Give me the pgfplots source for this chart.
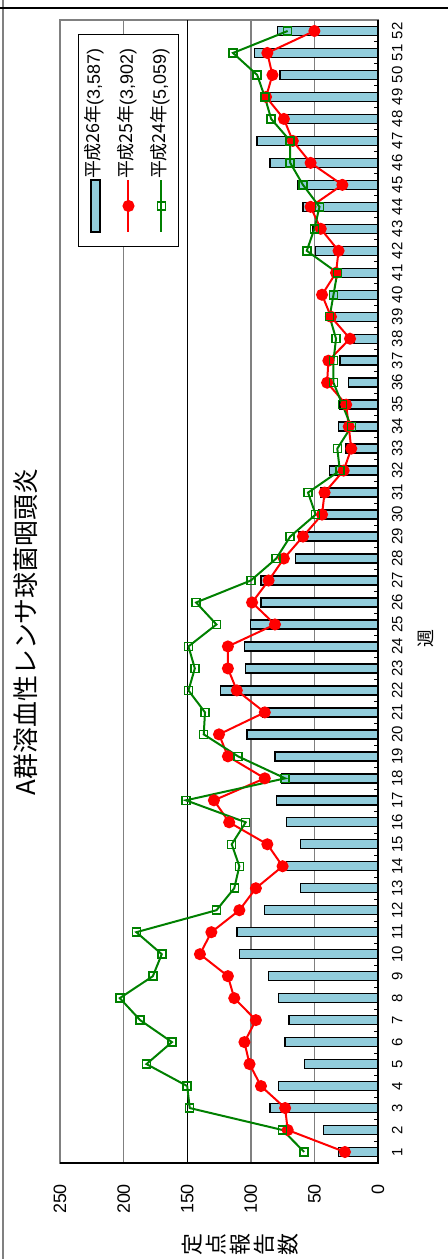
\documentclass[border=0pt]{standalone}
\usepackage{fontspec}
\setmainfont{Liberation Sans}
\newfontfamily\cjk{Noto Sans CJK JP}
\usepackage{pgfplots}
\pgfplotsset{compat=1.18}
\definecolor{barblue}{HTML}{92CDDC}
\definecolor{gridgray}{HTML}{808080}
\definecolor{lgreen}{HTML}{008000}

\begin{document}
\begin{tikzpicture}[rotate=90, transform shape]
\useasboundingbox (-48bp,-35bp) rectangle (581.5bp,189bp);
% chart frame (only the two edges visible in the reference)
\draw[gridgray, line width=0.75bp] (-48bp,187.5bp) -- (581.5bp,187.5bp);
\draw[black, line width=0.75bp] (577.5bp,-35bp) -- (577.5bp,189bp);
\begin{axis}[
  at={(0,0)}, anchor=south west,
  scale only axis, width=571.5bp, height=159bp,
  xmin=0.5, xmax=52.5, ymin=0, ymax=250,
  xtick={1,...,52},
  minor xtick={0.5,1.5,...,52.5},
  ytick={0,50,100,200,250},
  extra y ticks={150},
  extra y tick style={grid style={black, line width=0.5bp}},
  ymajorgrids,
  grid style={gridgray, line width=0.75bp},
  tick pos=left, tick align=inside,
  major tick length=0pt, minor tick length=2bp,
  every tick/.style={black, line width=0.5bp},
  axis line style={gridgray, line width=0.75bp},
  /pgf/number format/assume math mode=true,
  yticklabel style={font=\fontsize{9}{10}\selectfont, xshift=-7bp},
  xticklabel style={font=\fontsize{7.5}{9}\selectfont, yshift=-3.5bp},
  title={A群溶血性レンサ球菌咽頭炎},
  title style={at={(axis description cs:0.4646,1.069)}, anchor=center,
    font=\cjk\fontsize{13}{15}\selectfont},
  xlabel={週},
  xlabel style={at={(axis description cs:0.4585,-0.151)}, anchor=center,
    font=\cjk\fontsize{9}{10}\selectfont},
  ylabel={定\\点\\報\\告\\数},
  ylabel style={at={(axis description cs:-0.0717,0.434)}, anchor=center,
    rotate=-90, align=center, font=\cjk\fontsize{11}{12}\selectfont},
  legend cell align=left,
  legend style={at={(axis description cs:0.9878,0.9434)}, anchor=north east,
    draw=black, line width=0.5bp, font=\fontsize{9}{10}\selectfont,
    row sep=9bp, inner xsep=7bp, inner ysep=4.75bp,
    nodes={inner sep=0pt, text height=6bp, text depth=1.5bp}},
  after end axis/.code={
    \draw[black, line width=1bp] (rel axis cs:0,1) -- (rel axis cs:0,0) -- (rel axis cs:1,0);
  },
]
% 平成26年
\addplot[ybar, bar width=4.5bp, fill=barblue, draw=black, line width=0.7bp,
  legend image code/.code={
    \draw[fill=barblue, draw=black, line width=0.7bp] (0bp,-2.25bp) rectangle (26bp,2.25bp);}]
  coordinates {
  (1,31) (2,43) (3,85) (4,78) (5,58) (6,73) (7,70) (8,78) (9,86) (10,109)
  (11,111) (12,89) (13,61) (14,72) (15,61) (16,72) (17,80) (18,76) (19,81) (20,103)
  (21,91) (22,124) (23,104) (24,105) (25,100) (26,92) (27,92) (28,65) (29,62) (30,47)
  (31,45) (32,38) (33,25) (34,31) (35,30) (36,23) (37,30) (38,19) (39,39) (40,38)
  (41,34) (42,49) (43,51) (44,59) (45,63) (46,85) (47,95) (48,75) (49,86) (50,77)
  (51,97) (52,79)};
\addlegendentry{{\cjk 平成26年}(3,587)}
% 平成25年
\addplot[red, line width=1bp, mark=*, mark size=2.5bp,
  legend image code/.code={
    \draw[red, line width=1bp] (0bp,0bp) -- (26bp,0bp);
    \fill[red] (13bp,0bp) circle (2.5bp);}]
  coordinates {
  (1,26) (2,71) (3,73) (4,92) (5,101) (6,105) (7,96) (8,113) (9,118) (10,140)
  (11,131) (12,109) (13,96) (14,75) (15,87) (16,117) (17,129) (18,89) (19,118) (20,125)
  (21,89) (22,111) (23,118) (24,118) (25,81) (26,99) (27,86) (28,74) (29,59) (30,44)
  (31,42) (32,27) (33,21) (34,23) (35,25) (36,40) (37,39) (38,22) (39,37) (40,44)
  (41,33) (42,31) (43,45) (44,53) (45,28) (46,53) (47,67) (48,74) (49,88) (50,83)
  (51,87) (52,50)};
\addlegendentry{{\cjk 平成25年}(3,902)}
% 平成24年
\addplot[lgreen, line width=1bp, mark=square, mark size=2bp,
  mark options={line width=0.75bp},
  legend image code/.code={
    \draw[lgreen, line width=1bp] (0bp,0bp) -- (26bp,0bp);
    \draw[lgreen, line width=0.75bp] (11bp,-2bp) rectangle (15bp,2bp);}]
  coordinates {
  (1,58) (2,75) (3,148) (4,150) (5,182) (6,162) (7,187) (8,203) (9,177) (10,170)
  (11,190) (12,127) (13,113) (14,109) (15,115) (16,104) (17,151) (18,73) (19,110) (20,137)
  (21,136) (22,149) (23,144) (24,149) (25,127) (26,143) (27,100) (28,80) (29,69) (30,49)
  (31,55) (32,30) (33,32) (34,21) (35,28) (36,35) (37,35) (38,33) (39,38) (40,35)
  (41,32) (42,56) (43,50) (44,46) (45,59) (46,69) (47,69) (48,84) (49,89) (50,95)
  (51,114) (52,71)};
\addlegendentry{{\cjk 平成24年}(5,059)}
\end{axis}
\end{tikzpicture}
\end{document}
